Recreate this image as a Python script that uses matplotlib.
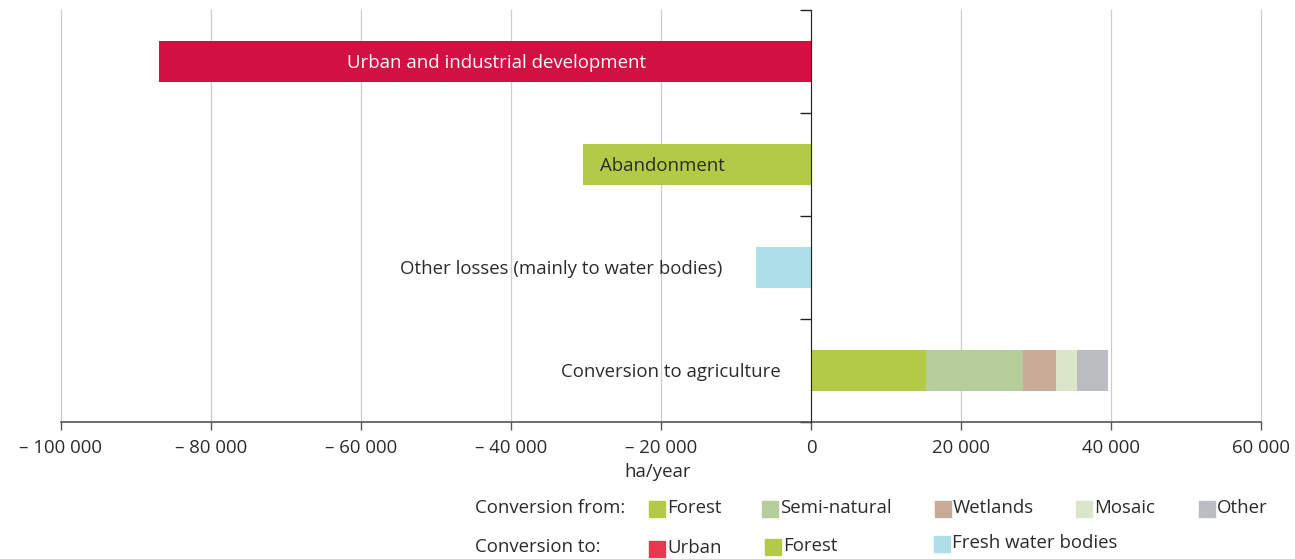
import matplotlib.pyplot as plt
from matplotlib.patches import Rectangle

plt.rcParams['font.family'] = ['Open Sans', 'DejaVu Sans']

# ha/year, one row per flow
categories = ["Urban and industrial development", "Abandonment",
              "Other losses (mainly to water bodies)", "Conversion to agriculture"]
losses = [-86900, -30400, -7300]
loss_colors = ["#D21041", "#B3CA48", "#ADDFE8"]

# conversion to agriculture, split by origin
from_labels = ["Forest", "Semi-natural", "Wetlands", "Mosaic", "Other"]
from_values = [15300, 12900, 4500, 2800, 4100]
from_colors = ["#B3CA48", "#B5CD9A", "#C7AB96", "#DAE5CA", "#BBBCC0"]

to_labels = ["Urban", "Forest", "Fresh water bodies"]
to_colors = ["#E8384F", "#B3CA48", "#ADDFE8"]

xticks = [-100000, -80000, -60000, -40000, -20000, 0, 20000, 40000, 60000]


def fmt(v):
    s = f"{abs(v):,}".replace(",", " ")
    return ("\u2013 " + s) if v < 0 else s


fig = plt.figure(figsize=(12.95, 5.59), dpi=100)
ax = fig.add_axes([61 / 1295, 1 - 422 / 559, 1200 / 1295, 412 / 559])

bh = 0.4
for i, v in enumerate(losses):
    ax.barh(i, v, height=bh, color=loss_colors[i], zorder=3)

left = 0
for v, c in zip(from_values, from_colors):
    ax.barh(3, v, left=left, height=bh, color=c, zorder=3)
    left += v

ax.set_xlim(-100000, 60000)
ax.set_ylim(3.5, -0.5)

txt = "#2B2B2B"
fs = 13.4
dy = 0.017
# category labels
ax.text(losses[0] / 2 + 1500, 0 + dy, categories[0], color="white", fontsize=fs,
        ha="center", va="center", zorder=4)
ax.text(losses[1] + 2300, 1 + dy, categories[1], color=txt, fontsize=fs,
        ha="left", va="center", zorder=4)
ax.text(losses[2] - 4500, 2 + dy, categories[2], color=txt, fontsize=fs,
        ha="right", va="center", zorder=4)
ax.text(-4000, 3 + dy, categories[3], color=txt, fontsize=fs,
        ha="right", va="center", zorder=4)

ax.set_xticks(xticks)
ax.set_xticklabels([fmt(v) for v in xticks], fontsize=13.4, color=txt)
ax.xaxis.grid(True, color="#CCCCCC", linewidth=0.9, zorder=0)
for gl in ax.get_xgridlines():
    gl.set_clip_on(False)
ax.tick_params(axis="x", length=6, width=1, color="#555555", pad=6)

ax.spines["left"].set_position(("data", 0))
ax.spines["left"].set_color("#222222")
ax.spines["left"].set_zorder(5)
ax.spines["bottom"].set_color("#555555")
ax.spines["bottom"].set_linewidth(1.2)
ax.spines["top"].set_visible(False)
ax.spines["right"].set_visible(False)
ax.set_yticks([-0.5, 0.5, 1.5, 2.5, 3.5])
ax.set_yticklabels([])
ax.tick_params(axis="y", length=8, width=1, color="#222222", direction="out")

fig.text(658 / 1295, 1 - 472 / 559, "ha/year", fontsize=13.4, color=txt,
         ha="center", va="center")


def legend_row(y, title, labels, colors, xs, dy):
    fig.text(475 / 1295, 1 - y / 559, title, fontsize=13.4, color=txt,
             ha="left", va="center")
    for lab, col, x, d in zip(labels, colors, xs, dy):
        fig.patches.append(Rectangle((x / 1295, 1 - (y + d + 8) / 559), 16 / 1295, 16 / 559,
                                     transform=fig.transFigure, color=col))
        fig.text((x + 18) / 1295, 1 - (y + d - 1) / 559, lab, fontsize=13.4, color=txt,
                 ha="left", va="center")


legend_row(508, "Conversion from:", from_labels, from_colors,
           [649, 762, 935, 1076, 1199], [1, 1, 1, 1, 1])
legend_row(547, "Conversion to:", to_labels, to_colors, [649, 765, 934], [2, 0, -3])

fig.savefig("out.png", dpi=100)
